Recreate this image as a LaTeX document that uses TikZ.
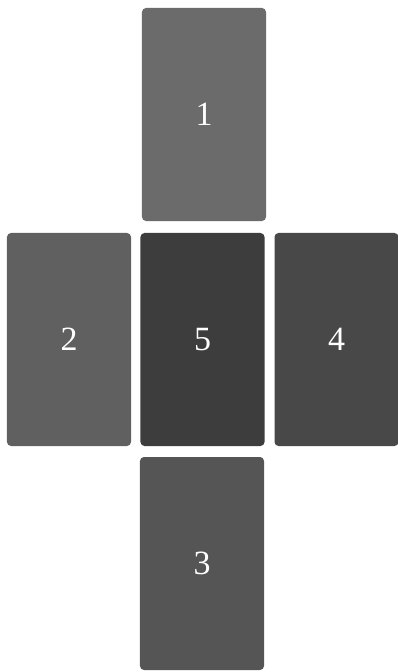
\documentclass[tikz,border=0pt]{standalone}
\usepackage{xcolor}
\usepackage{fontspec}
\setmainfont{Liberation Serif}

\definecolor{cardA}{HTML}{6B6B6B}
\definecolor{cardB}{HTML}{606060}
\definecolor{cardC}{HTML}{555555}
\definecolor{cardD}{HTML}{484848}
\definecolor{cardE}{HTML}{3D3D3D}

\begin{document}
\begin{tikzpicture}[
      x=0.03cm, y=-0.03cm,
      card/.style={rectangle, rounded corners=0.12cm, minimum width=3.72cm, minimum height=6.39cm, inner sep=0pt, text=white, font=\fontsize{29}{34}\selectfont},
    ]
    
    % Marco
    \useasboundingbox (0,0) rectangle (398,672);
    
    % Carta superior
    \node[card, fill=cardA] (c1) at (204,114.5) {1};
    
    % Fila central
    \node[card, fill=cardB] (c2) at (69,339.5) {2};
    \node[card, fill=cardE] (c5) at (202.5,339.5) {5};
    \node[card, fill=cardD] (c4) at (336.5,339.5) {4};
    
    % Carta inferior
    \node[card, fill=cardC] (c3) at (202,563.5) {3};
    
  \end{tikzpicture}
\end{document}
